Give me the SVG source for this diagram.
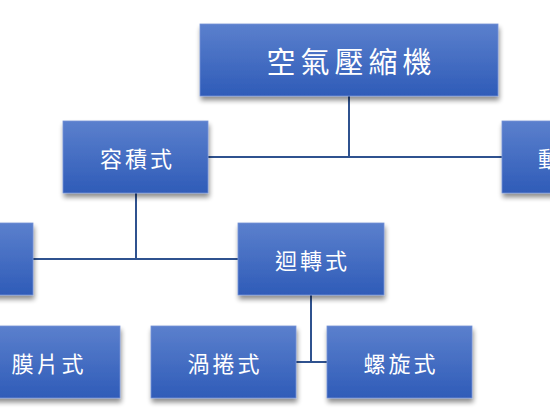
<svg xmlns="http://www.w3.org/2000/svg" width="550" height="412" viewBox="0 0 550 412">
<defs>
<linearGradient id="g" x1="0" y1="0" x2="0" y2="1">
<stop offset="0" stop-color="#5b80cd"/>
<stop offset="1" stop-color="#2f5cb8"/>
</linearGradient>
<filter id="sh" x="-20%" y="-20%" width="140%" height="150%">
<feGaussianBlur in="SourceAlpha" stdDeviation="2.5"/>
<feOffset dx="1" dy="4" result="b"/>
<feComponentTransfer><feFuncA type="linear" slope="0.45"/></feComponentTransfer>
<feMerge><feMergeNode/><feMergeNode in="SourceGraphic"/></feMerge>
</filter>
</defs>
<style>
.box{fill:url(#g);stroke:#7592d6;stroke-width:0.8;filter:url(#sh)}
.t{fill:#ffffff;font-family:"Noto Sans CJK TC","Noto Sans CJK SC",sans-serif;font-size:22px;letter-spacing:3px;text-anchor:middle;dominant-baseline:central}
.big{font-size:29px;letter-spacing:5px}
.c{stroke:#2f528f;stroke-width:2;fill:none}
</style>
<rect width="550" height="412" fill="#ffffff"/>
<g id="connectors">
<path class="c" d="M349 96V157M208 157H502"/>
<path class="c" d="M136 193V259M33 259H238"/>
<path class="c" d="M311 295V362M296 362H327"/>
</g>
<g id="root"><rect class="box" x="200" y="24" width="298" height="72"/><text class="t big" x="351.5" y="60">空氣壓縮機</text></g>
<g id="n-volumetric"><rect class="box" x="63" y="121" width="145" height="72"/><text class="t" x="137.5" y="157">容積式</text></g>
<g id="n-dynamic"><rect class="box" x="502" y="121" width="145" height="72"/><text class="t" x="538" y="157" style="text-anchor:start">動</text></g>
<g id="n-reciprocating"><rect class="box" x="-112" y="223" width="145" height="72"/></g>
<g id="n-rotary"><rect class="box" x="238" y="223" width="146" height="72"/><text class="t" x="312.5" y="259">迴轉式</text></g>
<g id="n-diaphragm"><rect class="box" x="-25" y="326" width="145" height="72"/><text class="t" x="49" y="362">膜片式</text></g>
<g id="n-scroll"><rect class="box" x="151" y="326" width="145" height="72"/><text class="t" x="225" y="362">渦捲式</text></g>
<g id="n-screw"><rect class="box" x="327" y="326" width="145" height="72"/><text class="t" x="401" y="362">螺旋式</text></g>
</svg>
